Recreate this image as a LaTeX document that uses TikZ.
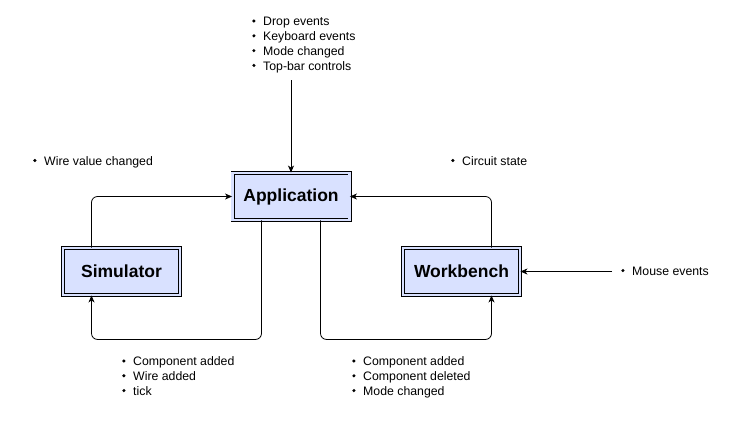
\documentclass[tikz,border=0pt]{standalone}
\usepackage{fontspec}
\setmainfont{Liberation Sans}
\usetikzlibrary{arrows.meta}
\definecolor{boxfill}{RGB}{217,225,255}
\tikzset{
  blockbox/.style={draw=black, line width=0.9pt, double=boxfill, double distance=2.2pt,
    fill=boxfill, minimum width=117pt, minimum height=47pt, inner sep=0pt,
    font=\fontsize{17.5}{20}\selectfont\bfseries},
  listtext/.style={align=left, anchor=north west, inner sep=0pt,
    font=\fontsize{12.3}{14.8}\selectfont},
  conn/.style={draw=black, line width=0.8pt, rounded corners=6pt,
    -{Stealth[length=7pt,width=6pt,inset=2pt]}},
}
\newcommand{\bitem}{\makebox[11pt][l]{\raisebox{0.45ex}{\tikz\fill (0,0) circle (1.7pt);}}}
\begin{document}
\begin{tikzpicture}[x=1pt,y=-1pt]
\useasboundingbox (0,0) rectangle (733,421);
\fill[white] (0,0) rectangle (733,421);

\node[blockbox] (app) at (291,196.5) {Application};
\node[blockbox] (sim) at (121.5,271.5) {Simulator};
\node[blockbox] (wb)  at (461.5,271.5) {Workbench};

% lists
\node[listtext] (toplist) at (252,17) {\bitem Drop events\\\bitem Keyboard events\\\bitem Mode changed\\\bitem Top-bar controls};
\node[listtext] (wvc) at (33,156) {\bitem Wire value changed};
\node[listtext] (cs) at (451,156) {\bitem Circuit state};
\node[listtext] (me) at (621,266.5) {\bitem Mouse events};
\node[listtext] (leftlist) at (122,356.5) {\bitem Component added\\\bitem Wire added\\\bitem tick};
\node[listtext] (rightlist) at (352,356.5) {\bitem Component added\\\bitem Component deleted\\\bitem Mode changed};

% connector anchors
\coordinate (topstart) at (291,80);
\coordinate (mestart) at (612,271.5);

\draw[conn] (topstart) -- (app.north);
\draw[conn] (mestart) -- (wb.east);
\draw[conn] ([xshift=-30pt]sim.north) |- (app.west);
\draw[conn] ([xshift=30pt]wb.north) |- (app.east);
\draw[conn] ([xshift=-29.5pt]app.south) -- ++(0,119) -| ([xshift=-30pt]sim.south);
\draw[conn] ([xshift=29.5pt]app.south) -- ++(0,119) -| ([xshift=30pt]wb.south);
\end{tikzpicture}
\end{document}
